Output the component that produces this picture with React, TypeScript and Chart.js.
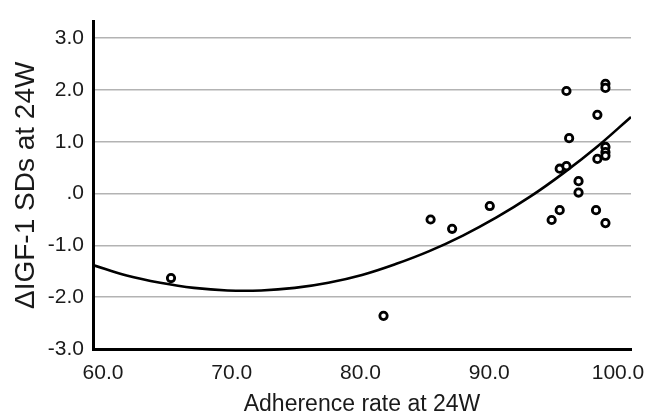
import React, { useEffect, useRef } from "react";
import { Chart, registerables } from "chart.js";

Chart.register(...registerables);

// Observed points
const adherence = [95.2, 98.1, 98.1, 97.5, 95.4, 98.1, 94.7, 95.2, 96.1, 96.1, 97.5, 98.1, 98.1, 94.7, 94.1, 97.4, 98.1, 85.1, 86.7, 89.5, 65.8, 81.6];
const igfSD = [1.98, 2.12, 2.04, 1.52, 1.07, 0.9, 0.48, 0.53, 0.24, 0.02, 0.67, 0.8, 0.73, -0.32, -0.51, -0.32, -0.57, -0.5, -0.68, -0.24, -1.63, -2.36];

// Fitted curve
const fitX = [60, 62.5, 65, 67.5, 70, 72.5, 75, 77.5, 80, 82.5, 85, 87.5, 90, 92.5, 95, 97.5, 100];
const fitY = [-1.38, -1.58, -1.72, -1.82, -1.87, -1.87, -1.82, -1.72, -1.57, -1.36, -1.11, -0.81, -0.46, -0.06, 0.4, 0.91, 1.48];

const xTicks = [60, 70, 80, 90, 100];
const yTicks = [-3, -2, -1, 0, 1, 2, 3];

const FONT = "'Liberation Sans', Arial, sans-serif";
const TXT = "#1a1a1a";

export default function App() {
  const ref = useRef<HTMLCanvasElement>(null);
  useEffect(() => {
    if (!ref.current) return;
    const chart = new Chart(ref.current, {
      type: "scatter",
      data: {
        datasets: [
          {
            data: adherence.map((x, i) => ({ x, y: igfSD[i] })),
            pointRadius: 3.7,
            pointBorderWidth: 2.8,
            pointBorderColor: "#000",
            pointBackgroundColor: "#fff",
            order: 0,
          },
          {
            data: fitX.map((x, i) => ({ x, y: fitY[i] })),
            showLine: true,
            pointRadius: 0,
            borderColor: "#000",
            borderWidth: 2.6,
            tension: 0.4,
            order: 1,
          },
        ],
      },
      options: {
        animation: false,
        responsive: false,
        layout: { padding: { top: 15, right: 16, left: 0, bottom: 0 } },
        plugins: { legend: { display: false }, tooltip: { enabled: false } },
        scales: {
          x: {
            type: "linear",
            position: "bottom",
            min: 60,
            max: 100,
            grid: { display: false },
            border: { color: "#000", width: 3 },
            ticks: { display: false },
            afterFit: (s: any) => {
              s.height = 0;
              s.paddingLeft = 0;
              s.paddingRight = 0;
            },
          },
          xl: {
            type: "linear",
            position: "bottom",
            min: 59.223,
            max: 101.01,
            grid: { display: false, drawTicks: false },
            border: { display: false },
            afterBuildTicks: (s: any) => {
              s.ticks = xTicks.map((v) => ({ value: v }));
            },
            ticks: {
              color: TXT,
              font: { family: FONT, size: 21 },
              padding: 12,
              maxRotation: 0,
              callback: (v: any) => Number(v).toFixed(1),
            },
            title: {
              display: true,
              text: "Adherence rate at 24W",
              color: TXT,
              font: { family: FONT, size: 23 },
              padding: { top: 0, bottom: 0 },
            },
            afterFit: (s: any) => {
              s.height = 69;
              s.paddingLeft = 0;
              s.paddingRight = 0;
            },
          },
          y: {
            type: "linear",
            min: -3,
            max: 3.32,
            afterBuildTicks: (s: any) => {
              s.ticks = yTicks.map((v) => ({ value: v }));
            },
            grid: { color: "#b3b3b3", lineWidth: 1.6, drawTicks: false },
            border: { color: "#000", width: 3 },
            ticks: {
              color: TXT,
              font: { family: FONT, size: 21 },
              padding: 9,
              callback: (v: any) => (Number(v) === 0 ? ".0" : Number(v).toFixed(1)),
            },
            title: {
              display: true,
              text: "ΔIGF-1 SDs at 24W",
              color: TXT,
              font: { family: FONT, size: 28 },
              padding: { top: 9, bottom: 0 },
            },
            afterFit: (s: any) => {
              s.width = 93;
            },
          },
        },
      },
    });
    return () => chart.destroy();
  }, []);
  return (
    <div style={{ position: "absolute", left: 0, top: 0, width: 647, height: 418, background: "#fff" }}>
      <canvas ref={ref} width={647} height={418} style={{ display: "block" }} />
    </div>
  );
}
